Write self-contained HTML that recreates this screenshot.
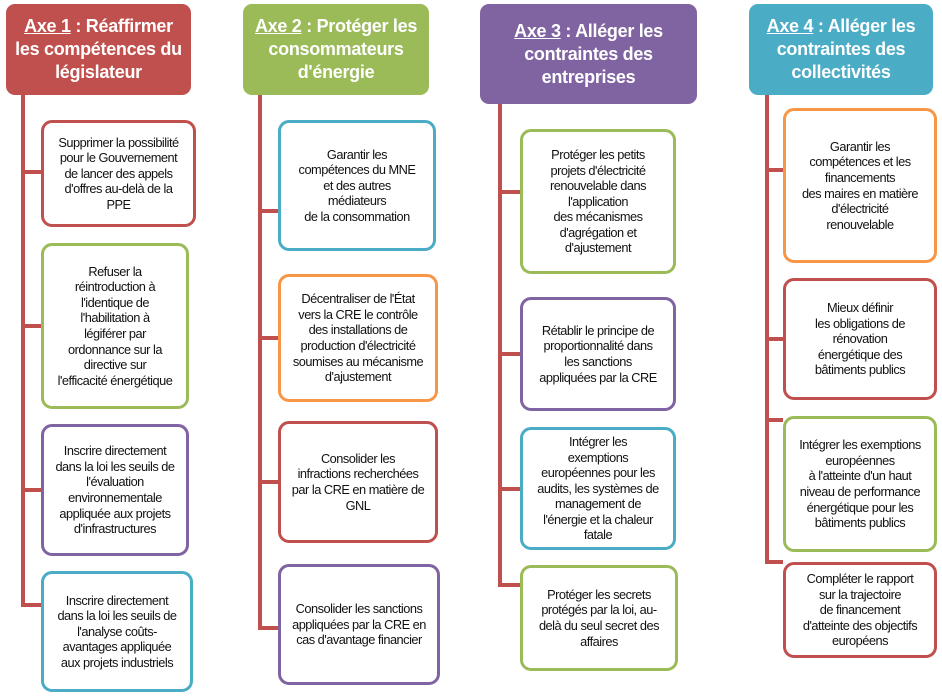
<!DOCTYPE html>
<html><head><meta charset="utf-8"><style>
body{margin:0;width:942px;height:696px;background:#fff;position:relative;overflow:hidden;font-family:"Liberation Sans",sans-serif}
.h{position:absolute;border-radius:9px;color:#fff;font-weight:bold;font-size:18px;line-height:23px;text-align:center;display:flex;align-items:center;justify-content:center;letter-spacing:-0.3px}
.h u{text-decoration:underline}
.b{position:absolute;box-sizing:border-box;border:3px solid;border-radius:11px;background:#fff;color:#111;font-size:12.8px;line-height:15.6px;text-align:center;display:flex;align-items:center;justify-content:center;letter-spacing:-0.5px;padding:0 1px;white-space:nowrap}
.l{position:absolute;background:#c0504d}
.R{border-color:#c0504d}.G{border-color:#9bbb59}.P{border-color:#8064a2}.T{border-color:#4bacc6}.O{border-color:#f79646}
</style></head><body>
<div class="h" style="left:6px;top:4px;width:185px;height:91px;background:#c0504d"><div><u>Axe 1</u> : Réaffirmer<br>les compétences du<br>législateur</div></div>
<div class="h" style="left:243px;top:4px;width:186px;height:91px;background:#9bbb59"><div><u>Axe 2</u> : Protéger les<br>consommateurs<br>d'énergie</div></div>
<div class="h" style="left:480px;top:4px;width:217px;height:100px;background:#8064a2"><div><u>Axe 3</u> : Alléger les<br>contraintes des<br>entreprises</div></div>
<div class="h" style="left:749px;top:4px;width:184px;height:91px;background:#4bacc6"><div><u>Axe 4</u> : Alléger les<br>contraintes des<br>collectivités</div></div>

<div class="l" style="left:21px;top:95px;width:4px;height:512px"></div>
<div class="l" style="left:21px;top:170px;width:20px;height:4px"></div>
<div class="l" style="left:21px;top:324px;width:20px;height:4px"></div>
<div class="l" style="left:21px;top:488px;width:20px;height:4px"></div>
<div class="l" style="left:21px;top:603px;width:20px;height:4px"></div>

<div class="l" style="left:258px;top:95px;width:4px;height:535px"></div>
<div class="l" style="left:258px;top:209px;width:20px;height:4px"></div>
<div class="l" style="left:258px;top:336px;width:20px;height:4px"></div>
<div class="l" style="left:258px;top:480px;width:20px;height:4px"></div>
<div class="l" style="left:258px;top:626px;width:20px;height:4px"></div>

<div class="l" style="left:498px;top:104px;width:4px;height:483px"></div>
<div class="l" style="left:498px;top:190px;width:22px;height:4px"></div>
<div class="l" style="left:498px;top:352px;width:22px;height:4px"></div>
<div class="l" style="left:498px;top:487px;width:22px;height:4px"></div>
<div class="l" style="left:498px;top:583px;width:22px;height:4px"></div>

<div class="l" style="left:765px;top:95px;width:4px;height:469px"></div>
<div class="l" style="left:765px;top:168px;width:18px;height:4px"></div>
<div class="l" style="left:765px;top:337px;width:18px;height:4px"></div>
<div class="l" style="left:765px;top:418px;width:18px;height:4px"></div>
<div class="l" style="left:765px;top:560px;width:18px;height:4px"></div>

<div class="b R" style="left:41px;top:120px;width:155px;height:107px"><div>Supprimer la possibilité<br>pour le Gouvernement<br>de lancer des appels<br>d'offres au-delà de la<br>PPE</div></div>
<div class="b G" style="left:41px;top:243px;width:148px;height:166px"><div>Refuser la<br>réintroduction à<br>l'identique de<br>l'habilitation à<br>légiférer par<br>ordonnance sur la<br>directive sur<br>l'efficacité énergétique</div></div>
<div class="b P" style="left:41px;top:424px;width:148px;height:132px"><div>Inscrire directement<br>dans la loi les seuils de<br>l'évaluation<br>environnementale<br>appliquée aux projets<br>d'infrastructures</div></div>
<div class="b T" style="left:41px;top:571px;width:152px;height:121px"><div>Inscrire directement<br>dans la loi les seuils de<br>l'analyse coûts-<br>avantages appliquée<br>aux projets industriels</div></div>

<div class="b T" style="left:278px;top:120px;width:158px;height:131px"><div>Garantir les<br>compétences du MNE<br>et des autres<br>médiateurs<br>de la consommation</div></div>
<div class="b O" style="left:278px;top:274px;width:160px;height:128px"><div>Décentraliser de l'État<br>vers la CRE le contrôle<br>des installations de<br>production d'électricité<br>soumises au mécanisme<br>d'ajustement</div></div>
<div class="b R" style="left:278px;top:421px;width:160px;height:122px"><div>Consolider les<br>infractions recherchées<br>par la CRE en matière de<br>GNL</div></div>
<div class="b P" style="left:278px;top:564px;width:162px;height:121px"><div>Consolider les sanctions<br>appliquées par la CRE en<br>cas d'avantage financier</div></div>

<div class="b G" style="left:520px;top:129px;width:156px;height:145px"><div>Protéger les petits<br>projets d'électricité<br>renouvelable dans<br>l'application<br>des mécanismes<br>d'agrégation et<br>d'ajustement</div></div>
<div class="b P" style="left:520px;top:297px;width:156px;height:114px"><div>Rétablir le principe de<br>proportionnalité dans<br>les sanctions<br>appliquées par la CRE</div></div>
<div class="b T" style="left:520px;top:427px;width:156px;height:123px"><div>Intégrer les<br>exemptions<br>européennes pour les<br>audits, les systèmes de<br>management de<br>l'énergie et la chaleur<br>fatale</div></div>
<div class="b G" style="left:520px;top:565px;width:158px;height:106px"><div>Protéger les secrets<br>protégés par la loi, au-<br>delà du seul secret des<br>affaires</div></div>

<div class="b O" style="left:783px;top:108px;width:154px;height:155px"><div>Garantir les<br>compétences et les<br>financements<br>des maires en matière<br>d'électricité<br>renouvelable</div></div>
<div class="b R" style="left:783px;top:278px;width:154px;height:122px"><div>Mieux définir<br>les obligations de<br>rénovation<br>énergétique des<br>bâtiments publics</div></div>
<div class="b G" style="left:783px;top:416px;width:154px;height:136px"><div>Intégrer les exemptions<br>européennes<br>à l'atteinte d'un haut<br>niveau de performance<br>énergétique pour les<br>bâtiments publics</div></div>
<div class="b R" style="left:783px;top:562px;width:154px;height:96px"><div>Compléter le rapport<br>sur la trajectoire<br>de financement<br>d'atteinte des objectifs<br>européens</div></div>
</body></html>
